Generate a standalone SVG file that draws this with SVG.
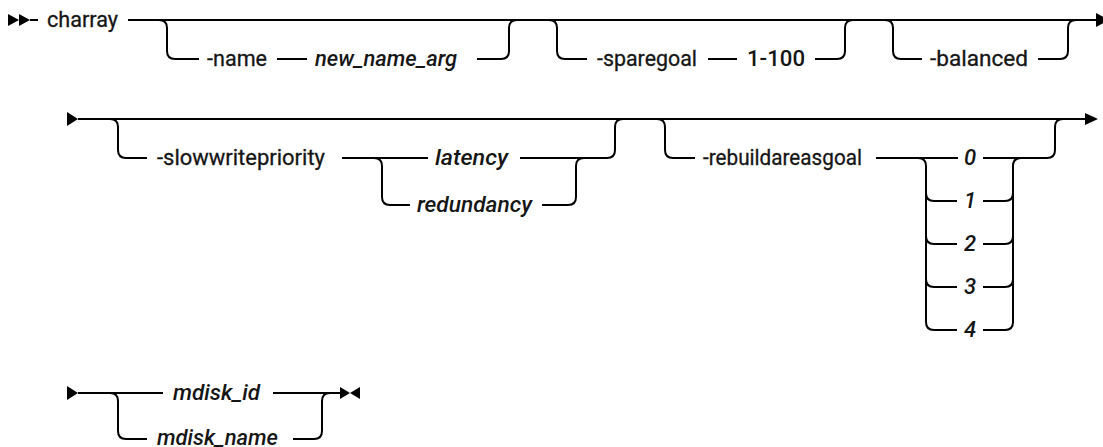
<svg xmlns="http://www.w3.org/2000/svg" width="1103" height="447" viewBox="0 0 1103 447">
<style>
.ln{fill:none;stroke:#000;stroke-width:2}
.ah{fill:#000}
text{font-family:Roboto,"Liberation Sans",sans-serif;font-size:22px;fill:#161616;stroke:#161616;stroke-width:0.3}
.it{font-style:italic;font-weight:500;stroke-width:0}
.b{font-weight:500;stroke-width:0}
.d{font-style:italic;font-weight:500;text-anchor:middle;stroke-width:0}
</style>
<rect width="1103" height="447" fill="#fff"/>
<g id="connectors">
<polygon class="ah" points="8,14 19,20 8,26"/>
<polygon class="ah" points="19,14 30,20 19,26"/>
<path class="ln" d="M30,20 H38"/>
<path class="ln" d="M128,20 H1097"/>
<polygon class="ah" points="1096,13 1109,20 1096,27"/>
<path class="ln" d="M159,20 Q167,20 167,28 V51 Q167,59 175,59 H199 M277,59 H307 M477,59 H501 Q509,59 509,51 V28 Q509,20 517,20"/>
<path class="ln" d="M549,20 Q557,20 557,28 V51 Q557,59 565,59 H587 M708,59 H737 M815,59 H837 Q845,59 845,51 V28 Q845,20 853,20"/>
<path class="ln" d="M885,20 Q893,20 893,28 V51 Q893,59 901,59 H922 M1038,59 H1060 Q1068,59 1068,51 V28 Q1068,20 1076,20"/>
<polygon class="ah" points="67,112 78,119 67,126"/>
<path class="ln" d="M78,119 H1086"/>
<polygon class="ah" points="1085,113 1098,119 1085,125"/>
<path class="ln" d="M110,119 Q118,119 118,127 V150 Q118,158 126,158 H147 M342,158 H428 M520,158 H607 Q615,158 615,150 V127 Q615,119 623,119"/>
<path class="ln" d="M374,158 Q382,158 382,166 V197 Q382,205 390,205 H410 M542,205 H568 Q576,205 576,197 V166 Q576,158 584,158"/>
<path class="ln" d="M657,119 Q665,119 665,127 V150 Q665,158 673,158 H695 M876,158 H958 M983,158 H1047 Q1055,158 1055,150 V127 Q1055,119 1063,119"/>
<path class="ln" d="M918,158 Q926,158 926,166 V322 Q926,330 934,330 H957 M926,193 Q926,201 934,201 H957 M926,236 Q926,244 934,244 H957 M926,279 Q926,287 934,287 H957"/>
<path class="ln" d="M983,330 H1005 Q1013,330 1013,322 V166 Q1013,158 1021,158 M983,201 H1005 Q1013,201 1013,193 M983,244 H1005 Q1013,244 1013,236 M983,287 H1005 Q1013,287 1013,279"/>
<polygon class="ah" points="67,386 78,393 67,400"/>
<path class="ln" d="M78,393 H163 M273,393 H340"/>
<path class="ln" d="M110,393 Q118,393 118,401 V431 Q118,439 126,439 H147 M293,439 H314 Q322,439 322,431 V401 Q322,393 330,393"/>
<polygon class="ah" points="340,387 350,393 340,399"/>
<polygon class="ah" points="360,387 350,393 360,399"/>
</g>
<g id="charray"><text x="47" y="27" textLength="71" lengthAdjust="spacingAndGlyphs">charray</text></g>
<g id="name"><text x="207" y="66" textLength="60" lengthAdjust="spacingAndGlyphs">-name</text></g>
<g id="new_name_arg"><text class="it" x="315" y="66" textLength="142" lengthAdjust="spacingAndGlyphs">new_name_arg</text></g>
<g id="sparegoal"><text x="597" y="66" textLength="100" lengthAdjust="spacingAndGlyphs">-sparegoal</text></g>
<g id="range"><text class="b" x="747" y="66" textLength="58" lengthAdjust="spacingAndGlyphs">1-100</text></g>
<g id="balanced"><text x="930" y="66" textLength="98" lengthAdjust="spacingAndGlyphs">-balanced</text></g>
<g id="slowwritepriority"><text x="157" y="165" textLength="168" lengthAdjust="spacingAndGlyphs">-slowwritepriority</text></g>
<g id="latency"><text class="it" x="435" y="165" textLength="73" lengthAdjust="spacingAndGlyphs">latency</text></g>
<g id="redundancy"><text class="it" x="417" y="212" textLength="115" lengthAdjust="spacingAndGlyphs">redundancy</text></g>
<g id="rebuildareasgoal"><text x="703" y="165" textLength="159" lengthAdjust="spacingAndGlyphs">-rebuildareasgoal</text></g>
<g id="v0"><text class="d" x="970" y="165">0</text></g>
<g id="v1"><text class="d" x="970" y="208">1</text></g>
<g id="v2"><text class="d" x="970" y="251">2</text></g>
<g id="v3"><text class="d" x="970" y="294">3</text></g>
<g id="v4"><text class="d" x="970" y="337">4</text></g>
<g id="mdisk_id"><text class="it" x="173" y="400" textLength="87" lengthAdjust="spacingAndGlyphs">mdisk_id</text></g>
<g id="mdisk_name"><text class="it" x="157" y="445" textLength="121" lengthAdjust="spacingAndGlyphs">mdisk_name</text></g>
</svg>
